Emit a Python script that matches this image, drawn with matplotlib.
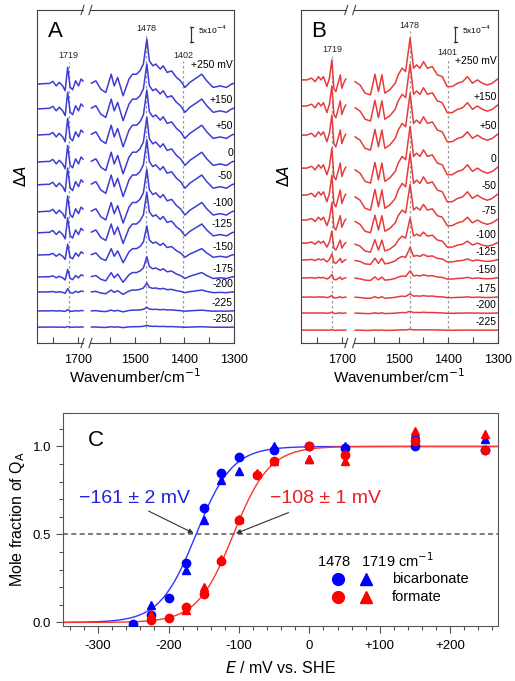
import matplotlib.pyplot as plt
import matplotlib.ticker as mticker
import numpy as np

plt.rcParams['font.family'] = ['Liberation Sans', 'DejaVu Sans']

# ---- panel A (bicarbonate) : top trace read at turning points, units of 1e-4 dA
wn_a_left = [1783, 1765, 1758, 1751, 1744, 1738, 1731, 1726, 1721, 1716, 1711, 1705, 1699, 1694, 1690]
shape_a_left = [0.0, 0.2, 0.2, 0.9, -0.6, 0.6, -0.6, -2.2, 5.6, -1.0, -1.9, 1.1, -0.6, 1.7, 1.0]
wn_a_right = [1588, 1579, 1569, 1559, 1548, 1542, 1535, 1524, 1512, 1505, 1497, 1490, 1483, 1476,
              1471, 1464, 1458, 1449, 1443, 1435, 1426, 1416, 1408, 1399, 1389, 1379, 1365, 1355,
              1342, 1328, 1315, 1305, 1300]
shape_a_right = [0.3, 1.1, -1.7, -2.8, 3.3, -0.6, 2.2, -3.9, 1.7, 3.3, 3.3, 4.4, 6.7, 15.0,
                 7.8, 6.1, 6.7, 5.0, 6.1, 3.9, 4.4, 2.2, 1.1, -1.1, 0.6, 1.7, 3.3, 1.1,
                 -1.1, -0.6, -1.1, 0.0, 0.3]
pot_a = ['+250 mV', '+150', '+50', '0', '-50', '-100', '-125', '-150', '-175', '-200', '-225', '-250']
amp_a = [1, 1, 1, 1, 1, 0.95, 0.9, 0.65, 0.45, 0.2, 0.08, 0.04]
offset_a = [86.3, 78.0, 69.3, 60.3, 52.7, 43.7, 36.7, 29.3, 22.0, 17.0, 10.7, 5.3]
peaks_a = [1719, 1478, 1402]

# ---- panel B (formate)
wn_b_left = [1781, 1771, 1761, 1754, 1747, 1742, 1737, 1730, 1725, 1720, 1716, 1712, 1703, 1700, 1695, 1692]
shape_b_left = [0.0, 0.0, 0.6, -0.6, 1.1, 0.0, 1.1, -2.2, 0.6, 6.7, -2.8, -3.9, 1.7, -2.8, -0.6, 0.3]
wn_b_right = [1588, 1578, 1568, 1557, 1548, 1541, 1534, 1528, 1518, 1507, 1501, 1493, 1486, 1477,
              1470, 1464, 1457, 1450, 1442, 1432, 1422, 1412, 1402, 1392, 1381, 1371, 1361, 1351,
              1341, 1331, 1321, 1311, 1300]
shape_b_right = [-0.6, -1.7, -4.4, -5.0, 1.9, -3.9, 1.7, -4.4, -3.3, -1.1, 1.7, 3.9, 2.8, 13.9,
                 3.9, 5.0, 3.9, 6.1, 3.9, 4.4, 1.7, 1.1, -2.2, -2.2, -1.1, -0.6, 1.1, -1.1,
                 0.0, -1.1, -1.7, -1.1, 0.3]
pot_b = ['+250 mV', '+150', '+50', '0', '-50', '-75', '-100', '-125', '-150', '-175', '-200', '-225']
amp_b = [1, 1, 1, 1, 1, 0.85, 0.6, 0.3, 0.17, 0.08, 0.04, 0.02]
offset_b = [87.7, 79.0, 69.3, 58.3, 49.3, 41.0, 33.3, 27.7, 21.7, 15.3, 10.0, 4.3]
peaks_b = [1719, 1478, 1401]

# ---- panel C : mole fraction of QA-
E_bic_1478 = [-250, -225, -200, -175, -150, -125, -100, -50, 0, 50, 150, 250]
bic_1478 = [-0.01, 0.04, 0.14, 0.34, 0.65, 0.85, 0.94, 0.98, 1.0, 0.99, 1.0, 0.98]
E_bic_1719 = [-225, -175, -150, -125, -100, -50, 0, 50, 150, 250]
bic_1719 = [0.10, 0.30, 0.58, 0.81, 0.86, 1.0, 0.93, 1.0, 1.07, 1.04]
E_for_1478 = [-225, -200, -175, -150, -125, -100, -75, -50, 0, 50, 150, 250]
for_1478 = [0.015, 0.025, 0.085, 0.16, 0.35, 0.58, 0.84, 0.92, 1.0, 0.95, 1.03, 0.98]
E_for_1719 = [-225, -175, -150, -125, -100, -75, -50, 0, 50, 150, 250]
for_1719 = [0.05, 0.07, 0.20, 0.36, 0.59, 0.85, 0.92, 0.93, 0.92, 1.09, 1.07]
Em_bic = -161
Em_for = -108

BREAK = 85  # cm-1 cut out of the axis between 1690 and 1588


def xc(w):
    w = np.asarray(w, dtype=float)
    return np.where(w > 1600, w - BREAK, w)


def spectra_panel(ax, wl, sl, wr, sr, offsets, amps, pots, color, peaks, peak_y, letter):
    for off, amp, lab, i in zip(offsets, amps, pots, range(len(pots))):
        ax.plot(xc(wl), off + amp * np.array(sl), color=color, lw=1.1, solid_joinstyle='round')
        ax.plot(xc(wr), off + amp * np.array(sr), color=color, lw=1.1, solid_joinstyle='round')
        pad = 4.5 if i == 0 else 1.0
        ax.text(1302, off + amp * sr[-1] + pad, lab, ha='right', va='bottom', fontsize=7.5)
    for p, py in zip(peaks, peak_y):
        ax.plot([xc(p), xc(p)], [5, py - 2], color='#999999', lw=0.9, ls=(0, (2, 2)), zorder=0)
        ax.text(xc(p), py, str(p), ha='center', va='center', fontsize=6.5, color='#222222')
    # scale bar 5x10^-4
    ax.plot([xc(1386)] * 2, [100.3, 105.3], color='#333333', lw=0.9)
    ax.plot([xc(1389), xc(1383)], [105.3, 105.3], color='#333333', lw=0.9)
    ax.plot([xc(1389), xc(1383)], [100.3, 100.3], color='#333333', lw=0.9)
    ax.text(xc(1372), 104.3, r'5x10$^{-4}$', fontsize=6, va='center', ha='left')
    ax.text(0.055, 0.935, letter, transform=ax.transAxes, fontsize=16, va='center', ha='left')

    ax.set_xlim(xc(1783), 1300)
    ax.set_ylim(0, 111)
    ax.set_yticks([])
    ax.set_xticks(xc([1750, 1700, 1550, 1500, 1450, 1400, 1350, 1300]))
    ax.set_xticklabels(['', '1700', '', '1500', '', '1400', '', '1300'], fontsize=9)
    ax.tick_params(axis='x', direction='in', length=4, width=0.8, pad=8, color='#444444')
    ax.set_xlabel(r'Wavenumber/cm$^{-1}$', fontsize=11, labelpad=1)
    ax.set_ylabel(r'$\Delta$$A$', fontsize=11, labelpad=6)

    # broken frame
    ax.spines['top'].set_visible(False)
    ax.spines['bottom'].set_visible(False)
    for s in ['left', 'right']:
        ax.spines[s].set_color('#444444')
        ax.spines[s].set_linewidth(0.8)
    tr = ax.get_xaxis_transform()
    for y in [0, 1]:
        ax.plot([xc(1783), 1606], [y, y], transform=tr, color='#444444', lw=0.8, clip_on=False)
        ax.plot([1590, 1300], [y, y], transform=tr, color='#444444', lw=0.8, clip_on=False)
        for xb in [1606, 1590]:
            ax.plot([xb + 3, xb - 3], [y - 0.014, y + 0.014], transform=tr,
                    color='#444444', lw=0.8, clip_on=False)


fig = plt.figure(figsize=(5.15, 6.81), dpi=100)
ax_a = fig.add_axes([0.0718, 0.4963, 0.3825, 0.489])
ax_b = fig.add_axes([0.5839, 0.4963, 0.3825, 0.489])
ax_c = fig.add_axes([0.1223, 0.0808, 0.8447, 0.3127])

spectra_panel(ax_a, wn_a_left, shape_a_left, wn_a_right, shape_a_right, offset_a, amp_a, pot_a,
              '#3c3cd6', peaks_a, [95.7, 105.0, 96.0], 'A')
spectra_panel(ax_b, wn_b_left, shape_b_left, wn_b_right, shape_b_right, offset_b, amp_b, pot_b,
              '#e63c3c', peaks_b, [97.7, 106.0, 96.7], 'B')

# ---- panel C
E = np.linspace(-350, 268, 400)
ax_c.plot(E, 1 / (1 + 10 ** ((Em_bic - E) / 59.16)), color='#3333ff', lw=1.0)
ax_c.plot(E, 1 / (1 + 10 ** ((Em_for - E) / 59.16)), color='#ff3333', lw=1.0)
ax_c.axhline(0.5, color='#666666', lw=1.2, ls=(0, (3, 2)))

ax_c.plot(E_bic_1478, bic_1478, 'o', color='#0000ff', ms=6, zorder=3)
ax_c.plot(E_bic_1719, bic_1719, '^', color='#0000ff', ms=6, zorder=3)
ax_c.plot(E_for_1478, for_1478, 'o', color='#ff0000', ms=6, zorder=3)
ax_c.plot(E_for_1719, for_1719, '^', color='#ff0000', ms=6, zorder=3)

ax_c.text(-249, 0.707, '\u2212161 \u00b1 2 mV', color='#2222dd', fontsize=14, ha='center', va='center')
ax_c.text(23, 0.707, '\u2212108 \u00b1 1 mV', color='#e82222', fontsize=14, ha='center', va='center')
ax_c.annotate('', xy=(Em_bic, 0.5), xytext=(-232, 0.64),
              arrowprops=dict(arrowstyle='-|>', color='#333333', lw=0.8, mutation_scale=7))
ax_c.annotate('', xy=(Em_for, 0.5), xytext=(-26, 0.63),
              arrowprops=dict(arrowstyle='-|>', color='#333333', lw=0.8, mutation_scale=7))

# hand-made legend
ax_c.text(0.584, 0.305, r'1478   1719 cm$^{-1}$', transform=ax_c.transAxes, fontsize=10.5, va='center')
ax_c.plot([0.632], [0.221], 'o', color='#0000ff', ms=8.5, transform=ax_c.transAxes)
ax_c.plot([0.697], [0.221], '^', color='#0000ff', ms=8.5, transform=ax_c.transAxes)
ax_c.plot([0.632], [0.136], 'o', color='#ff0000', ms=8.5, transform=ax_c.transAxes)
ax_c.plot([0.697], [0.136], '^', color='#ff0000', ms=8.5, transform=ax_c.transAxes)
ax_c.text(0.756, 0.221, 'bicarbonate', transform=ax_c.transAxes, fontsize=10.5, va='center')
ax_c.text(0.756, 0.136, 'formate', transform=ax_c.transAxes, fontsize=10.5, va='center')
ax_c.text(0.058, 0.87, 'C', transform=ax_c.transAxes, fontsize=16, va='center')

ax_c.set_xlim(-350, 268)
ax_c.set_ylim(-0.02, 1.19)
ax_c.set_xticks([-300, -200, -100, 0, 100, 200])
ax_c.set_xticklabels(['-300', '-200', '-100', '0', '+100', '+200'])
ax_c.set_yticks([0.0, 0.5, 1.0])
ax_c.set_yticklabels(['0.0', '0.5', '1.0'])
ax_c.xaxis.set_minor_locator(mticker.MultipleLocator(20))
ax_c.yaxis.set_minor_locator(mticker.MultipleLocator(0.1))
ax_c.tick_params(which='both', direction='out', labelsize=9.5, color='#555555', width=0.8)
ax_c.tick_params(which='major', length=5)
ax_c.tick_params(which='minor', length=3)
ax_c.tick_params(axis='x', which='major', pad=5)
for s in ax_c.spines.values():
    s.set_color('#555555')
    s.set_linewidth(0.8)
ax_c.set_xlabel(r'$E$ / mV vs. SHE', fontsize=11.5, labelpad=6)
ax_c.set_ylabel(r'Mole fraction of Q$_\mathrm{A}$', fontsize=11.5, labelpad=4)

fig.savefig('out.png', dpi=100)
